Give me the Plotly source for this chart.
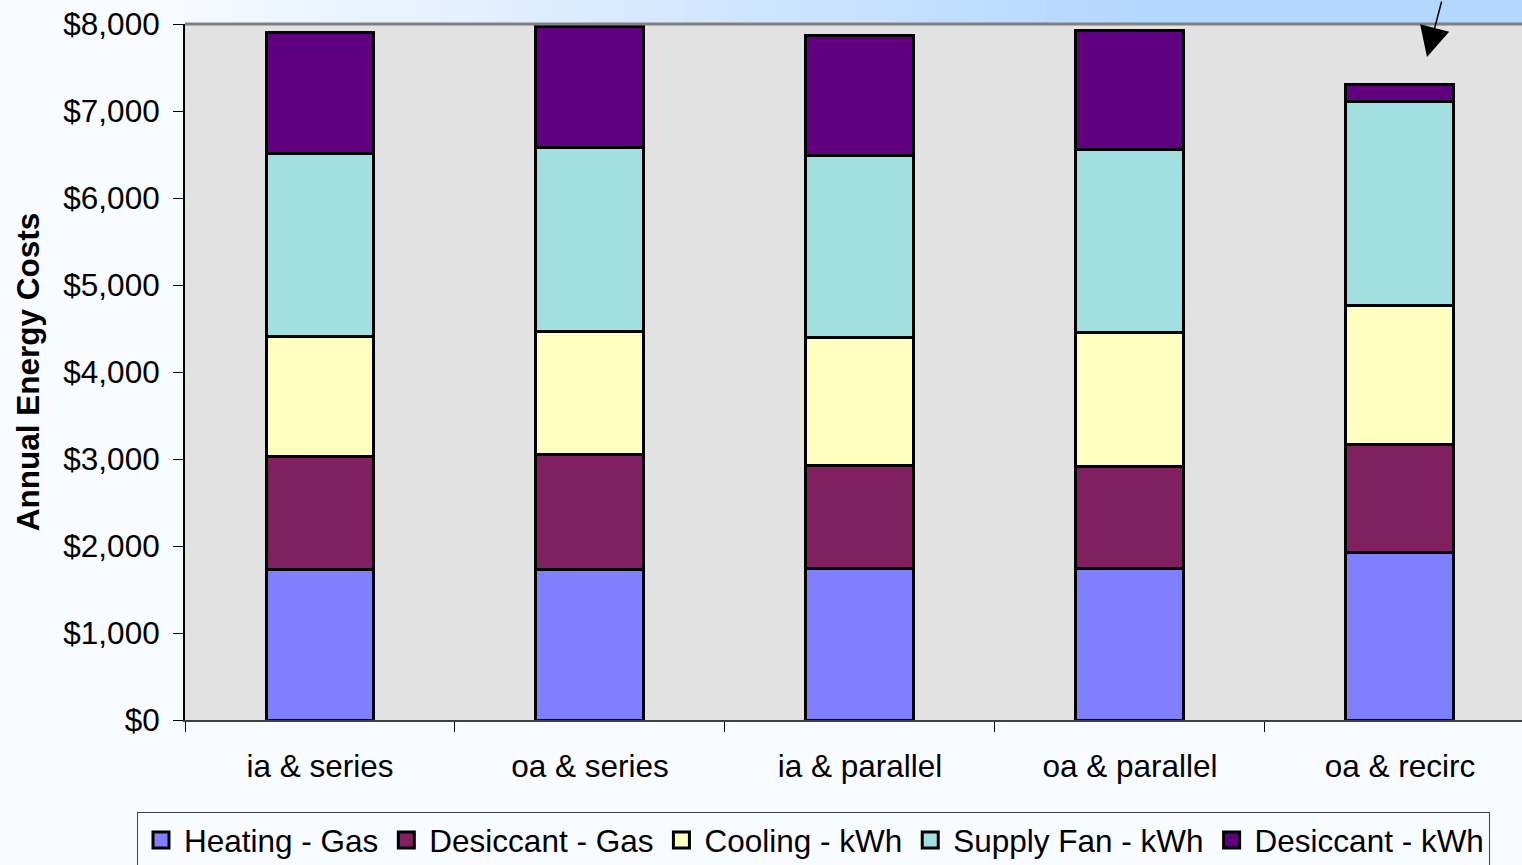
import plotly.graph_objects as go

# Annual energy cost breakdown per system configuration
configs = ["ia & series", "oa & series", "ia & parallel", "oa & parallel", "oa & recirc"]

heating_gas = [1732, 1732, 1747, 1747, 1923]
desiccant_gas = [1302, 1317, 1173, 1164, 1238]
cooling_kwh = [1372, 1419, 1474, 1541, 1609]
supply_fan_kwh = [2108, 2118, 2097, 2108, 2337]
desiccant_kwh = [1394, 1380, 1377, 1371, 203]

series_names = ["Heating - Gas", "Desiccant - Gas", "Cooling - kWh",
                "Supply Fan - kWh", "Desiccant - kWh"]
series_values = [heating_gas, desiccant_gas, cooling_kwh, supply_fan_kwh, desiccant_kwh]
series_colors = ["#8080FF", "#802060", "#FFFFC0", "#A2DFE0", "#600080"]

y_ticks = [0, 1000, 2000, 3000, 4000, 5000, 6000, 7000, 8000]
y_tick_labels = ["$0", "$1,000", "$2,000", "$3,000", "$4,000",
                 "$5,000", "$6,000", "$7,000", "$8,000"]

FONT = "Liberation Sans, Arial, sans-serif"
FS = 31.5

W, H = 1522, 865
ML, MT, MB = 185, 24, 145
PW, PH = W - ML, H - MT - MB

fig = go.Figure()
for name, vals, col in zip(series_names, series_values, series_colors):
    fig.add_trace(go.Bar(
        x=configs, y=vals, name=name, width=0.4, legendgroup=name,
        showlegend=False,
        marker=dict(color=col, line=dict(color="#000000", width=3)),
    ))
# legend entries drawn as larger outlined squares
for name, col in zip(series_names, series_colors):
    fig.add_trace(go.Scatter(
        x=[None], y=[None], mode="markers", name=name, legendgroup=name,
        marker=dict(symbol="square", size=16, color=col,
                    line=dict(color="#000000", width=3)),
    ))

# Light slide background with a blue wash along the top edge
shapes = []
n = 80
x0_px, x1_px = 150, 1150
c0 = (0xF8, 0xFB, 0xFF)
c1 = (0xB3, 0xD7, 0xFF)
for i in range(n):
    a = i * W / n
    b = (i + 1) * W / n
    mid = (a + b) / 2
    t = min(max((mid - x0_px) / (x1_px - x0_px), 0), 1)
    col = tuple(round(c0[k] + (c1[k] - c0[k]) * t) for k in range(3))
    shapes.append(dict(
        type="rect", xref="paper", yref="paper", layer="below",
        x0=(a - ML) / PW, x1=(b - ML) / PW + 0.001,
        y0=1, y1=1 + MT / PH,
        fillcolor="rgb(%d,%d,%d)" % col, line=dict(width=0),
    ))
# grey top border of the plot area
shapes.append(dict(type="line", xref="paper", yref="paper",
                   x0=0, x1=1, y0=1, y1=1,
                   line=dict(color="#808080", width=3)))

fig.update_layout(
    width=W, height=H,
    margin=dict(l=ML, r=0, t=MT, b=MB, autoexpand=False),
    paper_bgcolor="#F8FBFF",
    plot_bgcolor="#E2E2E2",
    barmode="stack",
    font=dict(family=FONT, size=FS, color="#000000"),
    shapes=shapes,
    showlegend=True,
    legend=dict(
        orientation="h",
        x=(137 - ML) / PW, y=(720 - 812) / PH,
        xanchor="left", yanchor="top",
        itemwidth=36,
        bgcolor="rgba(255,255,255,0)", bordercolor="#404040", borderwidth=1,
        font=dict(family=FONT, size=FS, color="#000000"),
        traceorder="normal",
    ),
    xaxis=dict(
        type="category", range=[-0.5, 4.452],
        tickson="boundaries", ticks="outside", ticklen=10, tickwidth=1,
        tickcolor="#000000",
        showline=True, linecolor="#404040", linewidth=2,
        showgrid=False, zeroline=False,
        tickfont=dict(family=FONT, size=FS),
        ticklabelstandoff=17,
    ),
    yaxis=dict(
        range=[0, 8000], tickmode="array", tickvals=y_ticks, ticktext=y_tick_labels,
        ticks="outside", ticklen=10, tickwidth=1, tickcolor="#000000",
        showline=True, linecolor="#000000", linewidth=2,
        showgrid=False, zeroline=False,
        tickfont=dict(family=FONT, size=FS),
        ticklabelstandoff=7,
        title=dict(text="<b>Annual Energy Costs</b>", standoff=14,
                   font=dict(family=FONT, size=FS)),
        automargin=False,
    ),
    annotations=[dict(
        xref="paper", yref="paper",
        x=(1427 - ML) / PW, y=(720 - 57) / PH,
        ax=15, ay=-70, text="", showarrow=True,
        arrowhead=2, arrowsize=4, arrowwidth=1.5, arrowcolor="#000000",
    )],
)

fig.write_html("out.html")
